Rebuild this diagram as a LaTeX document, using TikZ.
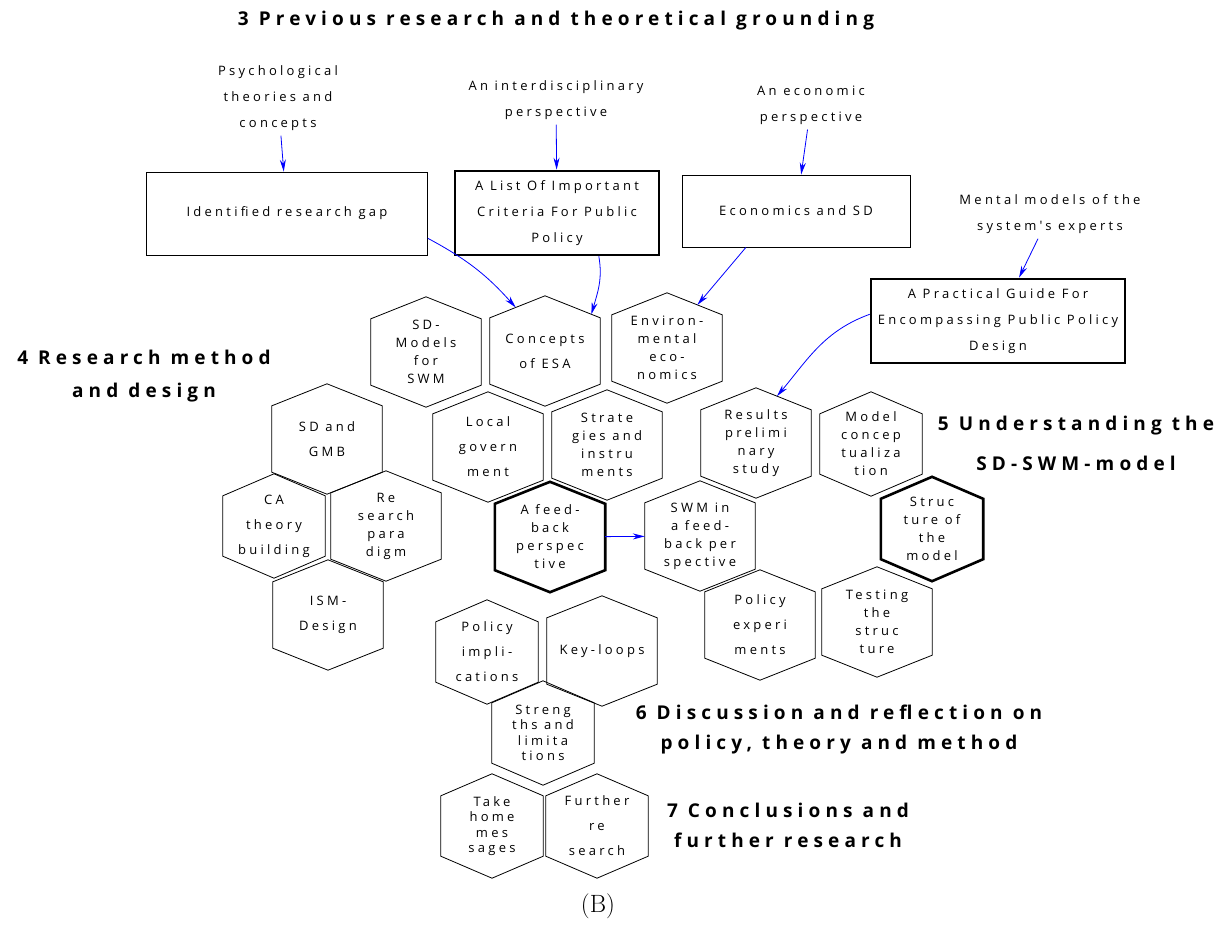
\documentclass[tikz,border=0pt]{standalone}
\usepackage{fontspec}
\usetikzlibrary{calc, arrows.meta}

\newfontfamily\labelfont{Open Sans}[LetterSpace=25]
\newfontfamily\chapfont{Open Sans}[LetterSpace=27]

\begin{document}
\begin{tikzpicture}[x=1pt, y=1pt,
    hexa/.style={rectangle, minimum width=110pt, minimum height=110pt,
        inner sep=0pt, align=center, font=\labelfont\fontsize{13}{18}\selectfont},
    smallhexa/.style={hexa, minimum width=102pt, minimum height=104pt},
    loose/.style={font=\labelfont\fontsize{13}{25}\selectfont},
    tight/.style={font=\labelfont\fontsize{13}{15.5}\selectfont},
    plainbox/.style={rectangle, draw=black, line width=0.8pt, align=center,
        font=\labelfont\fontsize{13}{26}\selectfont},
    boldbox/.style={plainbox, line width=2.6pt},
    source/.style={align=center, inner sep=5pt,
        font=\labelfont\fontsize{13}{26}\selectfont},
    chapter/.style={align=center, font=\chapfont\bfseries\fontsize{19}{33}\selectfont},
    arr/.style={-{Stealth[length=12pt, width=6pt]}, blue, line width=0.8pt}]

\useasboundingbox (0,0) rectangle (1232,-929);

% ===== Chapter headings =====
\node[chapter] (ch3) at (556,-21) {3 Previous research and theoretical grounding};
\node[chapter] (ch4) at (144,-376) {4 Research method\\and design};
\node[chapter, font=\chapfont\bfseries\fontsize{19}{40}\selectfont] (ch5) at (1076,-443)
    {5 Understanding the\\SD-SWM-model};
\node[chapter, font=\chapfont\bfseries\fontsize{19}{30}\selectfont] (ch6) at (839,-730)
    {6 Discussion and reflection on\\policy, theory and method};
\node[chapter, font=\chapfont\bfseries\fontsize{19}{30}\selectfont] (ch7) at (788,-825)
    {7 Conclusions and\\further research};

% ===== Sources (top) =====
\node[source] (psych) at (278,-98) {Psychological\\theories and\\concepts};
\node[source] (interdisc) at (556,-100) {An interdisciplinary\\perspective};
\node[source] (econpersp) at (811,-105) {An economic\\perspective};
\node[source] (mental) at (1050,-214) {Mental models of the\\system's experts};

% ===== Boxes =====
\node[plainbox, minimum width=281pt, minimum height=83pt] (gapbox) at (287,-213.5)
    {Identified research gap};
\node[boldbox, minimum width=204pt, minimum height=84pt] (listbox) at (557,-213)
    {A List Of Important\\Criteria For Public\\Policy};
\node[plainbox, minimum width=228pt, minimum height=72pt] (econbox) at (796,-211)
    {Economics and SD};
\node[boldbox, minimum width=254pt, minimum height=84pt] (guide) at (998,-321)
    {A Practical Guide For\\Encompassing Public Policy\\Design};

% ===== Chapter 3 hexagons =====
\node[hexa] (sdmodels) at (426,-352) {SD-\\Models\\for\\SWM};
\node[hexa, loose] (cesa) at (545,-351) {Concepts\\of ESA};
\node[hexa] (envecon) at (667,-348) {Environ-\\mental\\eco-\\nomics};
\node[hexa, loose] (localgov) at (488,-447) {Local\\govern\\ment};
\node[hexa] (strat) at (607,-445) {Strate\\gies and\\instru\\ments};
\node[hexa] (feedback) at (550,-537) {A feed-\\back\\perspec\\tive};

% ===== Chapter 4 hexagons =====
\node[hexa, loose] (sdgmb) at (327,-439) {SD and\\GMB};
\node[smallhexa, loose] (catheory) at (274,-526) {CA\\theory\\building};
\node[hexa] (paradigm) at (386,-526) {Re\\search\\para\\digm};
\node[hexa, loose] (ismdesign) at (328,-615) {ISM-\\Design};

% ===== Chapter 5 hexagons =====
\node[hexa] (results) at (756,-443) {Results\\prelimi\\nary\\study};
\node[smallhexa] (modelconc) at (871,-444) {Model\\concep\\tualiza\\tion};
\node[hexa] (swmfb) at (700,-536) {SWM in\\a feed-\\back per\\spective};
\node[smallhexa] (structure) at (932,-529) {Struc\\ture of\\the\\model};
\node[hexa, loose] (polexp) at (760,-625) {Policy\\experi\\ments};
\node[hexa] (testing) at (877,-622) {Testing\\the\\struc\\ture};

% ===== Chapter 6 hexagons =====
\node[smallhexa, loose] (polimpl) at (487,-652) {Policy\\impli-\\cations};
\node[hexa] (keyloops) at (602,-651) {Key-loops};
\node[smallhexa, tight] (strengths) at (543,-733) {Streng\\ths and\\limita\\tions};

% ===== Chapter 7 hexagons =====
\node[smallhexa, tight] (takehome) at (492,-826) {Take\\home\\mes\\sages};
\node[smallhexa, loose] (furtherres) at (597,-826) {Further\\re\\search};

% ===== Hexagon outlines =====
\foreach \n/\lw in {sdmodels/0.8, cesa/0.8, envecon/0.8, localgov/0.8, strat/0.8,
    feedback/2.6, sdgmb/0.8, catheory/0.8, paradigm/0.8, ismdesign/0.8,
    results/0.8, modelconc/0.8, swmfb/0.8, structure/2.6, polexp/0.8, testing/0.8,
    polimpl/0.8, keyloops/0.8, strengths/0.8, takehome/0.8, furtherres/0.8} {
    \draw[line width=\lw pt, line join=miter] (\n.north) -- ([yshift=-22pt]\n.north east)
        -- ([yshift=22pt]\n.south east) -- (\n.south) -- ([yshift=22pt]\n.south west)
        -- ([yshift=-22pt]\n.north west) -- cycle;
}

% ===== Connections =====
\draw[arr] (psych) -- (gapbox);
\draw[arr] (interdisc) -- (listbox);
\draw[arr] (econpersp) -- (econbox);
\draw[arr] (mental) -- (guide);
\draw[arr] (gapbox.-10) to[bend left=10]
    ($(cesa.north)!0.53!([yshift=-22pt]cesa.north west)$);
\draw[arr] (listbox.-46) to[out=-80, in=74]
    ($(cesa.north)!0.84!([yshift=-22pt]cesa.north east)$);
\draw[arr] (econbox.-144) -- ($(envecon.north)!0.55!([yshift=-22pt]envecon.north east)$);
\draw[arr] (guide.177) to[out=200, in=50]
    ($(results.north)!0.38!([yshift=-22pt]results.north east)$);
\draw[arr] (feedback) -- (swmfb);

% caption
\node[font=\fontsize{25}{30}\selectfont] (caption) at (598,-906) {(B)};

\end{tikzpicture}
\end{document}
